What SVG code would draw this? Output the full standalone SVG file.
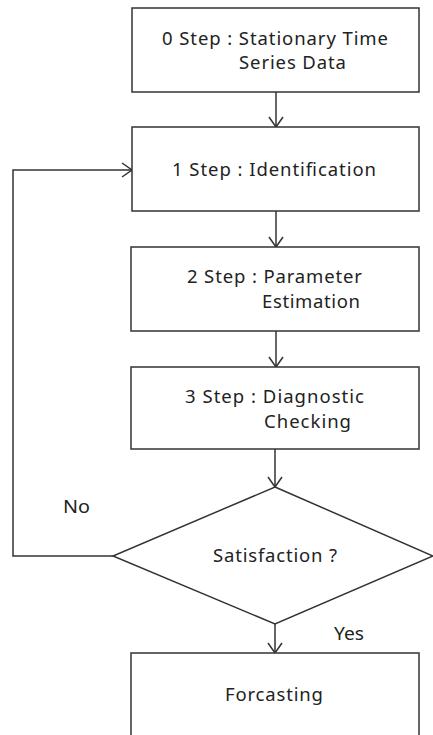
<svg xmlns="http://www.w3.org/2000/svg" width="433" height="735" viewBox="0 0 433 735">
<style>
.box{fill:#fff;stroke:#333;stroke-width:1.5}
.t{font-family:"Noto Sans","Open Sans",sans-serif;font-size:18.5px;fill:#222}
.c{fill:none;stroke:#333;stroke-width:1.5}
</style>
<defs>
<marker id="ah" viewBox="0 0 12 16" refX="11" refY="8" markerWidth="12" markerHeight="16" markerUnits="userSpaceOnUse" orient="auto">
<path d="M1,1 L11,8 L1,15" fill="none" stroke="#333" stroke-width="1.5"/>
</marker>
</defs>
<rect width="433" height="735" fill="#fff"/>
<g id="connectors">
<line class="c" x1="276" y1="92" x2="276" y2="127" marker-end="url(#ah)"/>
<line class="c" x1="276" y1="211" x2="276" y2="247" marker-end="url(#ah)"/>
<line class="c" x1="276" y1="331" x2="276" y2="367" marker-end="url(#ah)"/>
<line class="c" x1="275" y1="449" x2="275" y2="487" marker-end="url(#ah)"/>
<line class="c" x1="275" y1="624" x2="275" y2="653" marker-end="url(#ah)"/>
<polyline class="c" points="113,556 13,556 13,170 132,170" marker-end="url(#ah)"/>
<text class="t" x="63" y="513" textLength="27" lengthAdjust="spacingAndGlyphs">No</text>
<text class="t" x="334" y="640" textLength="30" lengthAdjust="spacingAndGlyphs">Yes</text>
</g>
<g id="step0">
<rect class="box" x="132" y="8" width="287" height="84"/>
<text class="t" x="162" y="45" textLength="226">0 Step : Stationary Time</text>
<text class="t" x="239" y="69" textLength="107">Series Data</text>
</g>
<g id="step1">
<rect class="box" x="132" y="127" width="287" height="84"/>
<text class="t" x="172" y="176" textLength="204">1 Step : Identification</text>
</g>
<g id="step2">
<rect class="box" x="131" y="247" width="288" height="84"/>
<text class="t" x="187" y="283" textLength="175">2 Step : Parameter</text>
<text class="t" x="262" y="308" textLength="98">Estimation</text>
</g>
<g id="step3">
<rect class="box" x="131" y="367" width="288" height="82"/>
<text class="t" x="185" y="403" textLength="179">3 Step : Diagnostic</text>
<text class="t" x="264" y="428" textLength="87">Checking</text>
</g>
<g id="decision">
<polygon class="box" points="275,487 433,556 275,624 113,556"/>
<text class="t" x="213" y="562" textLength="124">Satisfaction ?</text>
</g>
<g id="forecast">
<rect class="box" x="131" y="653" width="288" height="90"/>
<text class="t" x="225" y="701" textLength="98">Forcasting</text>
</g>
</svg>
